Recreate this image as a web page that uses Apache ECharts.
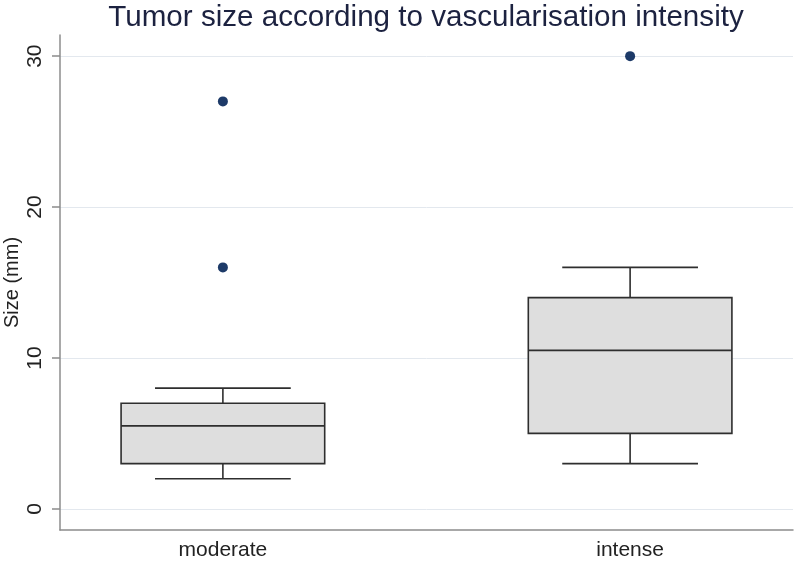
<!DOCTYPE html>
<html>
<head>
<meta charset="utf-8">
<script src="https://cdn.jsdelivr.net/npm/echarts@6/dist/echarts.min.js"></script>
<style>html,body{margin:0;padding:0;background:#fff;}#c{width:797px;height:561px;}</style>
</head>
<body>
<div id="c"></div>
<script>
const categories = ['moderate', 'intense'];
const lowWhisker = [2, 3];
const q1 = [3, 5];
const median = [5.5, 10.5];
const q3 = [7, 14];
const highWhisker = [8, 16];
const outlierCategory = [0, 0, 1];
const outlierValue = [16, 27, 30];
const yTicks = [0, 10, 20, 30];

const boxData = categories.map((c, i) => [i + 1, lowWhisker[i], q1[i], median[i], q3[i], highWhisker[i]]);
const outlierData = outlierValue.map((v, i) => [outlierCategory[i] + 1, v]);

const chart = echarts.init(document.getElementById('c'), null, {renderer: 'canvas'});
const lineStyle = {stroke: '#2e2e2e', lineWidth: 1.6};
chart.setOption({
  animation: false,
  backgroundColor: '#ffffff',
  title: {
    text: 'Tumor size according to vascularisation intensity',
    left: 421, textAlign: 'center', top: -2,
    textStyle: {fontFamily: 'Liberation Sans', fontSize: 29.6, fontWeight: 'normal', color: '#1c2240'}
  },
  grid: {left: 60, right: 4, top: 35, bottom: 31, containLabel: false, outerBoundsMode: 'none'},
  xAxis: {
    type: 'value', min: 0.6, max: 2.4,
    axisLine: {show: true, onZero: false, lineStyle: {color: '#8c8c8c', width: 1.5}},
    axisTick: {show: false, customValues: [1, 2]},
    splitLine: {show: false},
    axisLabel: {
      customValues: [1, 2], margin: 10,
      formatter: v => categories[Math.round(v) - 1] || '',
      fontFamily: 'Liberation Sans', fontSize: 21, color: '#222'
    }
  },
  yAxis: {
    type: 'value', min: -1.4, max: 31.4,
    name: 'Size (mm)', nameLocation: 'middle', nameGap: 38, nameMoveOverlap: false,
    nameTextStyle: {fontFamily: 'Liberation Sans', fontSize: 20, color: '#222'},
    axisLine: {show: true, onZero: false, lineStyle: {color: '#8c8c8c', width: 1.5}},
    axisTick: {show: true, length: 8, customValues: yTicks, lineStyle: {color: '#8c8c8c', width: 1.5}},
    splitLine: {show: true, lineStyle: {color: '#e3e8ee', width: 1}},
    axisLabel: {
      customValues: yTicks, rotate: 90, margin: 14,
      fontFamily: 'Liberation Sans', fontSize: 21, color: '#222'
    }
  },
  series: [
    {
      type: 'custom',
      data: boxData,
      encode: {x: 0, y: [1, 2, 3, 4, 5]},
      renderItem: function (params, api) {
        const x = api.value(0);
        const pLow = api.coord([x, api.value(1)]);
        const pQ1 = api.coord([x, api.value(2)]);
        const pMed = api.coord([x, api.value(3)]);
        const pQ3 = api.coord([x, api.value(4)]);
        const pHigh = api.coord([x, api.value(5)]);
        const halfBox = api.size([0.5, 0])[0] / 2;
        const halfCap = api.size([1 / 3, 0])[0] / 2;
        const cx = pMed[0];
        return {
          type: 'group',
          children: [
            {type: 'line', shape: {x1: cx, y1: pHigh[1], x2: cx, y2: pQ3[1]}, style: lineStyle},
            {type: 'line', shape: {x1: cx, y1: pQ1[1], x2: cx, y2: pLow[1]}, style: lineStyle},
            {type: 'line', shape: {x1: cx - halfCap, y1: pHigh[1], x2: cx + halfCap, y2: pHigh[1]}, style: lineStyle},
            {type: 'line', shape: {x1: cx - halfCap, y1: pLow[1], x2: cx + halfCap, y2: pLow[1]}, style: lineStyle},
            {type: 'rect', shape: {x: cx - halfBox, y: pQ3[1], width: halfBox * 2, height: pQ1[1] - pQ3[1]},
              style: {fill: '#dedede', stroke: '#2e2e2e', lineWidth: 1.6}},
            {type: 'line', shape: {x1: cx - halfBox, y1: pMed[1], x2: cx + halfBox, y2: pMed[1]}, style: lineStyle}
          ]
        };
      }
    },
    {
      type: 'scatter',
      data: outlierData,
      symbol: 'circle', symbolSize: 10,
      itemStyle: {color: '#1d3a68', opacity: 1}
    }
  ]
});
</script>
</body>
</html>
